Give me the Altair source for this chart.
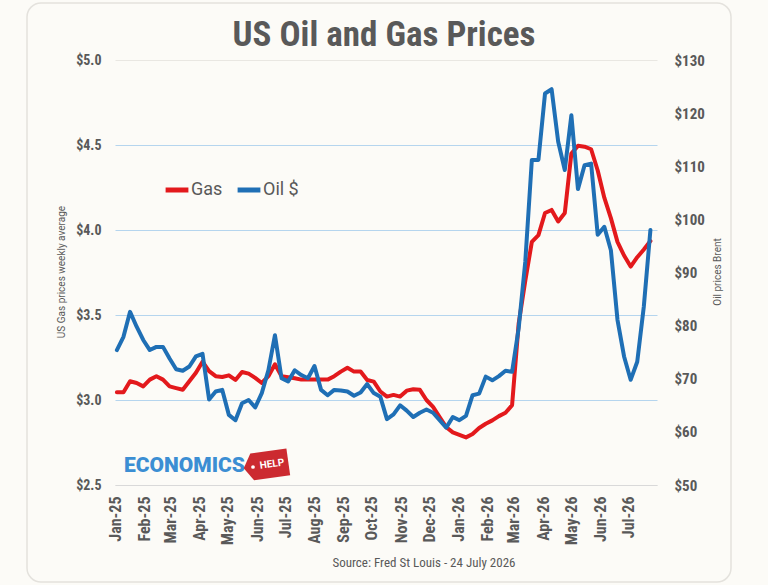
import altair as alt
import pandas as pd

# Weekly observations, Friday 3 Jan 2025 through Friday 24 Jul 2026
start_date = "2025-01-03"

# US regular gasoline, weekly average ($ per gallon)
gas_price = [
    3.045, 3.045, 3.11, 3.10, 3.08, 3.12, 3.14, 3.12, 3.08, 3.07,
    3.06, 3.11, 3.16, 3.225, 3.17, 3.14, 3.135, 3.145, 3.118, 3.165,
    3.155, 3.13, 3.10, 3.14, 3.21, 3.14, 3.134, 3.128, 3.12, 3.12,
    3.12, 3.12, 3.12, 3.14, 3.167, 3.19, 3.167, 3.167, 3.118, 3.108,
    3.05, 3.02, 3.03, 3.02, 3.055, 3.063, 3.06, 3.00, 2.96, 2.90,
    2.84, 2.81, 2.795, 2.78, 2.80, 2.835, 2.86, 2.88, 2.905, 2.925,
    2.97, 3.45, 3.70, 3.93, 3.97, 4.10, 4.118, 4.05, 4.10, 4.45,
    4.495, 4.49, 4.475, 4.35, 4.19, 4.07, 3.93, 3.85, 3.785, 3.84,
    3.885, 3.935,
]

# Brent crude ($ per barrel)
oil_price = [
    75.4, 77.9, 82.6, 79.8, 77.3, 75.4, 76.0, 76.0, 73.8, 71.8,
    71.5, 72.3, 74.2, 74.7, 66.1, 67.6, 67.9, 63.2, 62.2, 65.4,
    66.0, 64.6, 67.3, 71.6, 78.2, 70.1, 69.5, 71.6, 70.7, 70.1,
    72.4, 67.9, 66.9, 67.9, 67.8, 67.6, 66.8, 67.4, 69.0, 67.3,
    66.6, 62.4, 63.3, 65.0, 64.0, 62.8, 63.6, 64.2, 63.6, 62.2,
    60.8, 62.8, 62.2, 63.0, 66.9, 67.2, 70.4, 69.7, 70.5, 71.5,
    71.3, 79.5, 92.0, 111.2, 111.2, 123.7, 124.5, 114.6, 109.3, 119.6,
    105.7, 110.2, 110.5, 97.1, 98.6, 94.2, 81.1, 74.2, 69.8, 73.2,
    83.6, 98.0,
]

series_names = ["Gas", "Oil $"]
series_colors = ["#e3191c", "#1f6fb5"]
gas_ticks = [2.5, 3.0, 3.5, 4.0, 4.5, 5.0]
oil_ticks = [50, 60, 70, 80, 90, 100, 110, 120, 130]

FONT = "Roboto Condensed, Liberation Sans Narrow, Roboto, sans-serif"
PLAIN = "Roboto, Liberation Sans, sans-serif"
GREY = "#595959"
BG = "#fcfbf7"

weeks = pd.date_range(start_date, periods=len(gas_price), freq="7D").strftime("%Y-%m-%d")
gas_df = pd.DataFrame({"week": weeks, "price": gas_price, "series": series_names[0]})
oil_df = pd.DataFrame({"week": weeks, "price": oil_price, "series": series_names[1]})

x_enc = alt.X(
    "week:T",
    title=None,
    scale=alt.Scale(
        type="utc",
        domain=[
            alt.DateTime(year=2025, month=1, date=1, utc=True),
            alt.DateTime(year=2026, month=7, date=31, utc=True),
        ],
    ),
    axis=alt.Axis(
        tickCount={"interval": "month", "step": 1},
        labelExpr="utcFormat(datum.value, '%b-%y')",
        labelAngle=270,
        labelFont=FONT,
        labelFontSize=16,
        labelFontWeight="bold",
        labelColor=GREY,
        labelPadding=11,
        labelOverlap=False,
        labelFlush=False,
        ticks=False,
        tickSize=0,
        grid=False,
        domainColor="#d9d9d9",
        domainWidth=1,
    ),
)

color_enc = alt.Color(
    "series:N",
    scale=alt.Scale(domain=series_names, range=series_colors),
    legend=alt.Legend(
        title=None,
        orient="none",
        legendX=48,
        legendY=116,
        direction="horizontal",
        symbolType="stroke",
        symbolStrokeWidth=5,
        symbolSize=520,
        labelFont=PLAIN,
        labelFontSize=18,
        labelColor=GREY,
        labelOffset=0,
        columnPadding=4,
    ),
)

gas_line = alt.Chart(gas_df).mark_line(strokeWidth=4, strokeJoin="round", strokeCap="round").encode(
    x=x_enc,
    y=alt.Y(
        "price:Q",
        title=None,
        scale=alt.Scale(domain=[2.5, 5.0], nice=False, zero=False),
        axis=alt.Axis(
            orient="left",
            values=gas_ticks,
            format="$.1f",
            labelFont=FONT,
            labelFontSize=14,
            labelFontWeight="bold",
            labelColor=GREY,
            labelPadding=14,
            domain=False,
            ticks=False,
            tickSize=0,
            grid=True,
            gridWidth=1,
            gridColor={
                "condition": {"test": "datum.value >= 5 || datum.value <= 2.5", "value": "#e9e7e2"},
                "value": "#b5d5ee",
            },
        ),
    ),
    color=color_enc,
)

oil_line = alt.Chart(oil_df).mark_line(strokeWidth=4, strokeJoin="round", strokeCap="round").encode(
    x=x_enc,
    y=alt.Y(
        "price:Q",
        title=None,
        scale=alt.Scale(domain=[50, 130], nice=False, zero=False),
        axis=alt.Axis(
            orient="right",
            values=oil_ticks,
            format="$d",
            labelFont=FONT,
            labelFontSize=15,
            labelFontWeight="bold",
            labelColor=GREY,
            labelPadding=17,
            domain=False,
            ticks=False,
            tickSize=0,
            grid=False,
        ),
    ),
    color=alt.Color("series:N", scale=alt.Scale(domain=series_names, range=series_colors), legend=None),
)

one = pd.DataFrame({"k": [0]})

panel = alt.Chart(one).mark_rect(
    fillOpacity=0, stroke="#e4e2dd", strokeWidth=1.5, cornerRadius=14
).encode(x=alt.value(-88), x2=alt.value(616), y=alt.value(-57), y2=alt.value(522))

title = alt.Chart(one).mark_text(
    text="US Oil and Gas Prices", font=FONT, fontSize=35, fontWeight="bold",
    color=GREY, align="center", baseline="alphabetic",
).encode(x=alt.value(269), y=alt.value(-14))

left_title = alt.Chart(one).mark_text(
    text="US Gas prices weekly average", font=PLAIN, fontSize=10, color=GREY,
    angle=270, align="center", baseline="middle",
).encode(x=alt.value(-53), y=alt.value(212))

right_title = alt.Chart(one).mark_text(
    text="Oil prices Brent", font=PLAIN, fontSize=10, color=GREY,
    angle=270, align="center", baseline="middle",
).encode(x=alt.value(603), y=alt.value(212))

source = alt.Chart(one).mark_text(
    text="Source: Fred St Louis - 24 July 2026", font=FONT, fontSize=13, color=GREY,
    align="center", baseline="middle",
).encode(x=alt.value(309), y=alt.value(503))

logo_word = alt.Chart(one).mark_text(
    text="ECONOMICS", font="Roboto, sans-serif", fontSize=21, fontWeight=900, color="#3b8ed3",
    align="left", baseline="middle",
).encode(x=alt.value(9), y=alt.value(406))

logo_tag = alt.Chart(one).mark_point(
    shape="M -1 0 L -0.62 -0.6 L 1 -0.6 L 1 0.6 L -0.62 0.6 Z",
    filled=True, fill="#cc2a30", opacity=1, size=2025, angle=352, strokeWidth=0,
).encode(x=alt.value(151), y=alt.value(405))

logo_dot = alt.Chart(one).mark_circle(color="white", opacity=1, size=14).encode(
    x=alt.value(138), y=alt.value(407)
)

logo_help = alt.Chart(one).mark_text(
    text="HELP", font="Roboto, sans-serif", fontSize=10, fontWeight="bold", color="white",
    align="center", baseline="middle", angle=352,
).encode(x=alt.value(157), y=alt.value(404))

chart = (
    alt.layer(
        panel, gas_line, oil_line, title, left_title, right_title, source,
        logo_word, logo_tag, logo_dot, logo_help,
    )
    .resolve_scale(y="independent")
    .properties(
        width=542,
        height=425,
        autosize=alt.AutoSizeParams(type="none"),
        padding={"left": 115, "top": 60, "right": 111, "bottom": 100},
    )
    .configure(background=BG)
    .configure_view(strokeWidth=0)
)

chart.save("out.html", embed_options={"renderer": "svg", "actions": False})
